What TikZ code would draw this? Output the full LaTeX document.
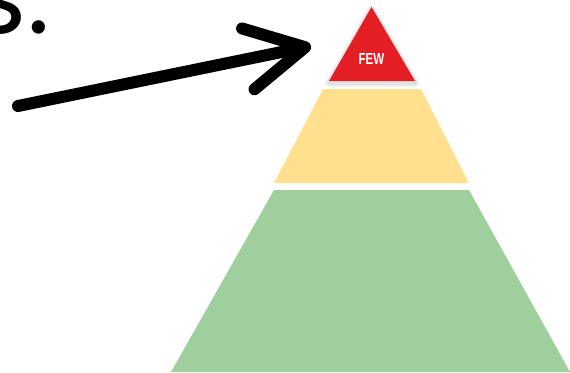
\documentclass[tikz,border=0pt]{standalone}
\usepackage{fontspec}
\setmainfont{Liberation Sans}
\newfontfamily\handfont{Poppins}
\usetikzlibrary{arrows.meta}

\definecolor{fewred}{HTML}{E31E24}
\definecolor{midyellow}{HTML}{FFE08E}
\definecolor{basegreen}{HTML}{9ECF9C}

\begin{document}
\begin{tikzpicture}[x=1pt,y=-1pt,>=Latex,
  tier/.style={draw=none},
  pointer/.style={line width=12pt,line cap=round,
    -{Straight Barb[length=58pt,width=62pt,round]}},
  every node/.style={inner sep=0pt}]
\useasboundingbox (0,0) rectangle (570,372);
\clip (0,0) rectangle (570,372);

% soft shadow round the top tier
\foreach \w in {8,6,4}
  \draw[black,opacity=0.04,line width=\w pt,line join=round,shift={(0,2)}]
    (371.5,7) -- (415,81) -- (329,81) -- cycle;

% tiers
\fill[tier,fewred] (371.5,7) -- (415,81) -- (329,81) -- cycle;
\fill[tier,midyellow] (323,89) -- (421,89) -- (469,183) -- (274,183) -- cycle;
\fill[tier,basegreen] (274,190) -- (469,190) -- (570,372) -- (171,372) -- cycle;

\node[font=\bfseries\fontsize{16}{16}\selectfont,text=white,xscale=0.72] (few) at (371.5,59) {FEW};

% cut-off handwriting and arrow
\node[anchor=base east,font=\handfont\fontsize{108}{108}\selectfont] (words) at (50,33) {s.};
\coordinate (tail) at (18,106);
\coordinate (tip) at (311,46);
\draw[pointer] (tail) -- (tip);
\end{tikzpicture}
\end{document}
